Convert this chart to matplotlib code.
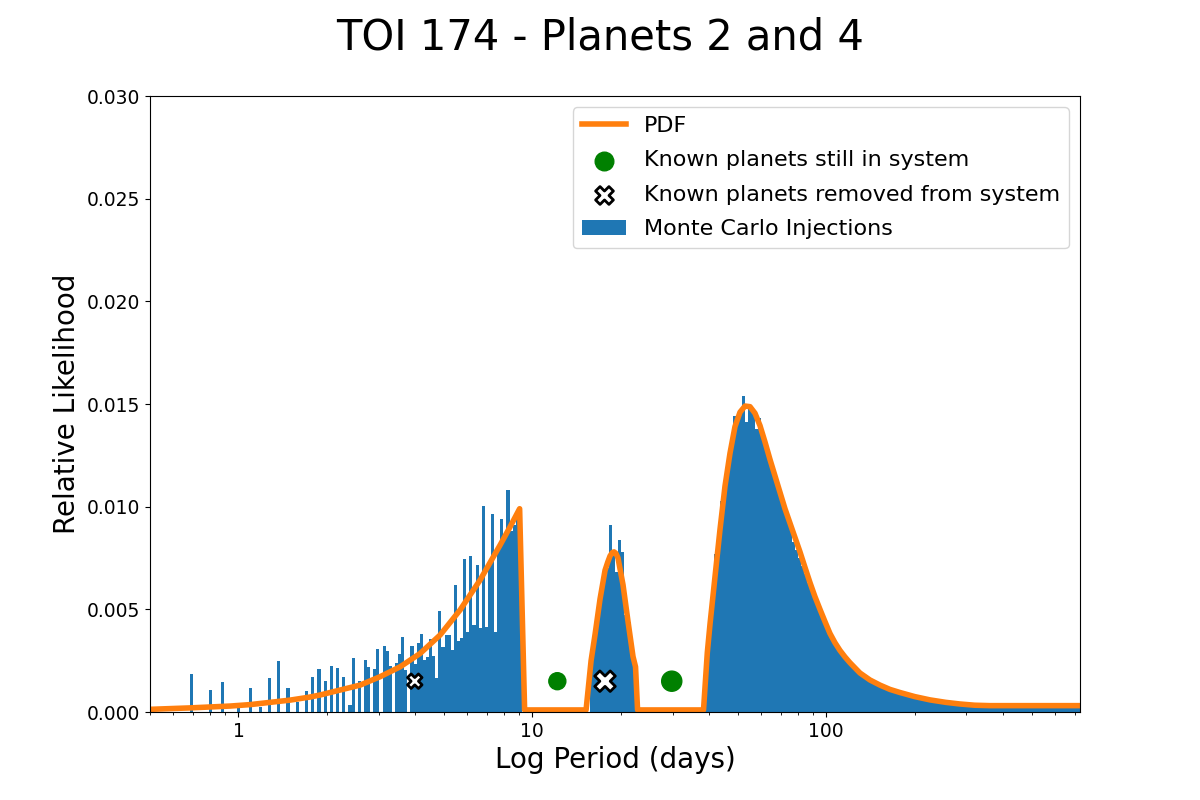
import numpy as np
import matplotlib
matplotlib.use("Agg")
import matplotlib.pyplot as plt

# ---------------- data ----------------
# histogram: 300 log-spaced bins between 0.5 and 730 days
bin_lo, bin_hi, n_bins = 0.5, 730.0, 300

# Inner region heights (bins 13..119)
inj_inner = [
    0.00185, 0, 0, 0, 0, 0, 0.00107, 0, 0, 0, 0.00146, 0, 0, 0, 0,
    0.00042, 0, 0, 0, 0.00117, 0, 0, 0.00024, 0, 0, 0.00166, 0, 0,
    0.00249, 0, 0, 0.00117, 0, 0, 0.00050, 0, 0, 0.00104, 0, 0.00170,
    0, 0.00210, 0, 0.00151, 0, 0.00224, 0, 0.00215, 0, 0.00170, 0,
    0.00034, 0.00263, 0, 0.00151, 0, 0.00254, 0.00220, 0, 0.00210,
    0.00307, 0, 0.00322, 0.00298, 0.00224, 0, 0.00239, 0.00283, 0.00366,
    0.00205, 0, 0.00322, 0.00234, 0.00337, 0.00380, 0.00254, 0.00270,
    0.00356, 0.00273, 0.00166, 0.00493, 0.00318, 0.00375, 0.00375,
    0.00302, 0.00620, 0.00346, 0.00362, 0.00746, 0.00392, 0.00760,
    0.00424, 0.00717, 0.00408, 0.01005, 0.00416, 0.00728, 0.00962,
    0.00392, 0.00798, 0.00940, 0.00839, 0.01083, 0.00880, 0.00910,
    0.00940, 0.00970,
]
# Middle island heights (bins 142..156)
inj_middle = [
    0.0023, 0.0040, 0.0050, 0.0058, 0.0069, 0.0070, 0.0091, 0.0079,
    0.0068, 0.0084, 0.0078, 0.0047, 0.0044, 0.0030, 0.0020,
]
# Outer region heights (bins 179..299)
inj_outer = [
    0.0028, 0.0042, 0.0056, 0.0077, 0.0085, 0.0103, 0.0110, 0.0121,
    0.0130, 0.0144, 0.0143, 0.0147, 0.0154, 0.0141, 0.0148, 0.0146,
    0.0138, 0.0143, 0.0136, 0.0131, 0.0125, 0.0120, 0.0115, 0.0110,
    0.0108, 0.0101, 0.0095, 0.0090, 0.0083, 0.0079, 0.0075, 0.0071,
    0.0067, 0.0063, 0.0059, 0.0055, 0.0052, 0.0048, 0.0045, 0.0042,
    0.0039, 0.0034, 0.0033, 0.0031, 0.0028, 0.0027, 0.0025, 0.0023,
    0.0022, 0.0020, 0.0019, 0.0018, 0.0017, 0.0016, 0.0015, 0.0014,
    0.00132, 0.00125, 0.00118, 0.00112, 0.00106, 0.00100, 0.00095,
    0.00090, 0.00086, 0.00082, 0.00078, 0.00074, 0.00070, 0.00067,
    0.00064, 0.00061, 0.00058, 0.00055, 0.00052, 0.00050, 0.00048,
    0.00046, 0.00044, 0.00042, 0.00040, 0.00038, 0.00036, 0.00034,
    0.00032, 0.00030,
] + [0.00027] * 35

inj_heights = ([0.0] * 13 + inj_inner + [0.0] * 22 + inj_middle
               + [0.0] * 22 + inj_outer)

# PDF curve (period in days, relative likelihood)
pdf_period = [
    0.50, 0.685, 0.937, 1.096, 1.282, 1.50, 1.754, 1.897, 2.218, 2.594,
    3.034, 3.548, 4.150, 4.854, 5.677, 6.640, 7.766, 8.399, 9.05, 9.41,
    15.23, 15.84, 16.35, 16.99, 17.67, 18.05, 18.38, 18.70, 18.96, 19.25,
    19.56, 20.34, 21.16, 22.00, 22.44, 22.80,
    38.22, 39.38, 40.23, 41.83, 43.50, 45.23, 47.03, 48.91, 50.87, 52.90,
    55.01, 57.21, 59.49, 61.87, 64.34, 66.91, 69.58, 72.36, 75.25, 78.25,
    81.38, 84.60, 88.03, 91.50, 95.19, 99.00, 102.9, 107.0, 111.3, 115.8,
    120.4, 130.2, 140.8, 152.3, 164.7, 178.1, 200.0, 225.3, 255.0, 285.0,
    320.0, 360.0, 730.0,
]
pdf_value = [
    0.00013, 0.00020, 0.00029, 0.00036, 0.00047, 0.00058, 0.00073,
    0.00083, 0.00107, 0.00131, 0.00172, 0.00220, 0.00285, 0.00375,
    0.00497, 0.00643, 0.00813, 0.00902, 0.00990, 0.00010,
    0.00010, 0.00250, 0.00380, 0.00550, 0.00690, 0.00730, 0.00760,
    0.00776, 0.00780, 0.00772, 0.00750, 0.00620, 0.00440, 0.00270,
    0.00220, 0.00010,
    0.00010, 0.00290, 0.00430, 0.00660, 0.00890, 0.01100, 0.01260,
    0.01390, 0.01460, 0.01490, 0.01487, 0.01455, 0.01395, 0.01315,
    0.01230, 0.01150, 0.01070, 0.00990, 0.00920, 0.00850, 0.00780,
    0.00705, 0.00630, 0.00562, 0.00500, 0.00440, 0.00383, 0.00338,
    0.00300, 0.00268, 0.00240, 0.00190, 0.00156, 0.00131, 0.00110,
    0.00095, 0.00075, 0.00059, 0.00047, 0.00039, 0.00033, 0.00031,
    0.00031,
]

# known planets (period, marker size)
kept_period = [12.16, 29.80]
kept_size = [150, 210]
removed_period = [3.98, 17.67]
removed_size = [110, 220]
marker_level = 0.0015

# ---------------- plot ----------------
fig, ax = plt.subplots(figsize=(12, 8), dpi=100)

edges = np.logspace(np.log10(bin_lo), np.log10(bin_hi), n_bins + 1)
bars = ax.bar(edges[:-1], inj_heights, width=np.diff(edges), align="edge",
              color="#1f77b4", linewidth=0, label="Monte Carlo Injections",
              zorder=1)
line, = ax.plot(pdf_period, pdf_value, color="#ff7f0e", linewidth=4,
                label="PDF", zorder=2)
kept = ax.scatter(kept_period, [marker_level] * len(kept_period),
                  s=kept_size, color="green", zorder=3,
                  label="Known planets still in system")
removed = ax.scatter(removed_period, [marker_level] * len(removed_period),
                     s=removed_size, marker="X", facecolor="white",
                     edgecolor="black", linewidth=2, zorder=3,
                     label="Known planets removed from system")

ax.set_xscale("log")
ax.set_xlim(bin_lo, bin_hi)
ax.set_ylim(0, 0.03)
ax.set_yticks(np.arange(0, 0.0301, 0.005))
ax.xaxis.set_major_formatter(matplotlib.ticker.FuncFormatter(
    lambda v, p: f"{v:g}"))
ax.tick_params(axis="both", which="major", labelsize=13.5)

ax.set_xlabel("Log Period (days)", fontsize=20)
ax.set_ylabel("Relative Likelihood", fontsize=20)
fig.suptitle("TOI 174 - Planets 2 and 4", fontsize=30)

ax.legend(handles=[line, kept, removed, bars], loc="upper right",
          fontsize=16, labelspacing=0.65)

fig.savefig("out.png", dpi=100)
